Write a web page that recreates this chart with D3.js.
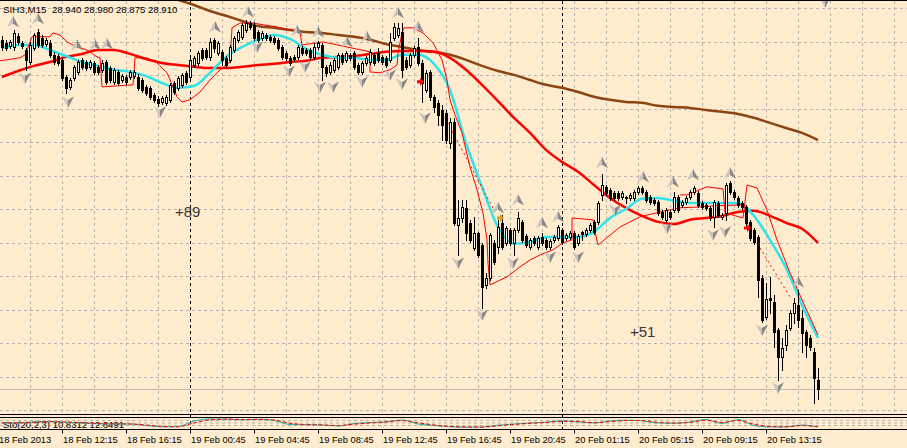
<!DOCTYPE html>
<html><head><meta charset="utf-8">
<script src="https://cdn.jsdelivr.net/npm/d3@7"></script>
<style>html,body{margin:0;padding:0;background:#FFEBCD;overflow:hidden}svg{display:block}</style>
</head><body><svg id="c" width="907" height="448"></svg>
<script>
// ---------- DATA ----------
const symbolLabel = "SIH3,M15";
const headerValues = "28.940 28.980 28.875 28.910";
const stochLabel = "Sto(20,2,3) 10.8312 12.6491";

// [open, high, low, close] per M15 bar
const candles = [
[30.074,30.087,30.040,30.050],[30.064,30.074,30.040,30.047],[30.054,30.074,30.047,30.067],[30.050,30.107,30.040,30.097],
[30.087,30.097,30.060,30.067],[30.064,30.070,30.047,30.054],[30.040,30.047,29.974,30.007],[30.000,30.067,29.994,30.057],
[30.047,30.097,30.040,30.090],[30.100,30.110,30.050,30.057],[30.080,30.090,30.050,30.057],[30.060,30.080,30.054,30.074],
[30.064,30.074,30.017,30.024],[30.024,30.034,29.994,30.000],[30.020,30.027,29.990,29.997],[30.007,30.014,29.940,29.947],
[29.950,29.957,29.897,29.914],[29.917,29.947,29.910,29.940],[29.947,29.990,29.940,29.984],[29.967,30.007,29.960,30.000],
[30.007,30.014,29.977,29.984],[30.000,30.007,29.974,29.980],[29.984,30.007,29.977,30.000],[29.997,30.004,29.960,29.967],
[29.984,29.990,29.960,29.967],[29.974,30.007,29.967,29.997],[30.000,30.007,29.927,29.934],[29.980,29.987,29.934,29.940],
[29.934,29.980,29.927,29.974],[29.967,29.974,29.924,29.930],[29.940,29.960,29.934,29.954],[29.950,29.957,29.927,29.934],
[29.950,29.974,29.944,29.967],[29.954,29.974,29.947,29.967],[29.950,29.960,29.907,29.914],[29.940,29.947,29.900,29.907],
[29.917,29.924,29.890,29.897],[29.914,29.920,29.877,29.884],[29.890,29.897,29.867,29.874],[29.877,29.887,29.854,29.864],
[29.867,29.887,29.860,29.880],[29.864,29.890,29.857,29.884],[29.874,29.930,29.867,29.924],[29.930,29.937,29.894,29.900],
[29.914,29.954,29.907,29.947],[29.924,29.964,29.917,29.957],[29.964,29.970,29.927,29.934],[29.950,30.017,29.940,30.007],
[29.990,30.020,29.984,30.014],[29.997,30.037,29.990,30.030],[30.040,30.047,30.007,30.014],[30.040,30.047,30.010,30.017],
[30.017,30.080,30.007,30.067],[30.074,30.080,30.034,30.047],[30.030,30.070,30.024,30.064],[30.034,30.040,29.990,30.007],
[30.014,30.020,29.984,29.990],[30.007,30.057,30.000,30.050],[30.040,30.087,30.034,30.080],[30.074,30.107,30.067,30.100],
[30.084,30.130,30.077,30.124],[30.107,30.140,30.100,30.130],[30.130,30.137,30.110,30.117],[30.124,30.134,30.074,30.080],
[30.100,30.107,30.067,30.074],[30.080,30.104,30.074,30.097],[30.090,30.097,30.074,30.080],[30.084,30.090,30.067,30.074],
[30.080,30.087,30.060,30.067],[30.074,30.080,30.040,30.047],[30.050,30.057,30.010,30.017],[30.030,30.037,30.007,30.014],
[30.014,30.020,29.990,29.997],[30.017,30.024,30.004,30.010],[30.017,30.057,30.010,30.050],[30.047,30.054,30.024,30.030],
[30.040,30.047,30.024,30.030],[30.040,30.047,30.010,30.017],[30.017,30.064,30.010,30.050],[30.050,30.070,30.044,30.064],
[30.057,30.064,29.940,29.984],[29.984,29.990,29.954,29.964],[29.967,30.000,29.960,29.990],[29.974,30.014,29.967,30.007],
[29.984,30.030,29.977,30.024],[30.024,30.030,29.994,30.000],[30.007,30.037,30.000,30.030],[30.024,30.030,30.007,30.014],
[30.030,30.037,29.977,29.984],[29.990,29.997,29.960,29.967],[29.967,30.004,29.960,29.997],[29.997,30.020,29.990,30.014],
[30.000,30.044,29.994,30.034],[30.024,30.030,29.990,29.997],[30.030,30.047,30.000,30.007],[30.017,30.024,29.994,30.000],
[30.014,30.020,29.984,29.990],[30.007,30.097,30.000,30.067],[30.080,30.130,30.074,30.117],[30.090,30.130,30.084,30.114],
[30.100,30.130,29.950,29.974],[30.007,30.017,29.977,29.984],[29.990,30.030,29.984,30.024],[30.024,30.054,30.017,30.047],
[30.050,30.080,29.990,29.997],[29.997,30.007,29.867,29.930],[29.907,29.974,29.900,29.964],[29.967,29.974,29.874,29.884],
[29.884,29.890,29.834,29.850],[29.864,29.874,29.790,29.824],[29.840,29.857,29.740,29.790],[29.830,29.840,29.730,29.740],
[29.730,29.814,29.714,29.800],[29.800,29.814,29.457,29.464],[29.457,29.540,29.357,29.480],[29.480,29.540,29.467,29.517],
[29.514,29.540,29.407,29.430],[29.464,29.474,29.400,29.407],[29.380,29.484,29.374,29.430],[29.430,29.434,29.350,29.357],
[29.390,29.397,29.180,29.250],[29.257,29.297,29.247,29.280],[29.280,29.430,29.274,29.424],[29.397,29.407,29.327,29.334],
[29.384,29.474,29.364,29.450],[29.464,29.490,29.377,29.384],[29.397,29.454,29.390,29.447],[29.440,29.447,29.390,29.397],
[29.397,29.447,29.357,29.440],[29.440,29.500,29.434,29.480],[29.467,29.474,29.400,29.407],[29.420,29.427,29.384,29.390],
[29.384,29.414,29.377,29.407],[29.414,29.420,29.390,29.397],[29.384,29.420,29.377,29.414],[29.417,29.430,29.390,29.397],
[29.407,29.414,29.377,29.384],[29.384,29.410,29.377,29.404],[29.407,29.424,29.400,29.417],[29.414,29.457,29.407,29.450],
[29.440,29.447,29.394,29.400],[29.414,29.430,29.407,29.424],[29.417,29.437,29.410,29.430],[29.430,29.437,29.377,29.384],
[29.397,29.427,29.390,29.420],[29.434,29.437,29.407,29.427],[29.427,29.447,29.420,29.440],[29.440,29.464,29.434,29.457],
[29.467,29.474,29.427,29.434],[29.467,29.537,29.460,29.530],[29.557,29.627,29.540,29.590],[29.584,29.590,29.557,29.564],
[29.574,29.580,29.540,29.547],[29.564,29.570,29.540,29.547],[29.564,29.570,29.540,29.547],[29.550,29.570,29.544,29.564],
[29.550,29.554,29.530,29.547],[29.547,29.564,29.540,29.557],[29.547,29.574,29.540,29.567],[29.567,29.587,29.560,29.580],
[29.580,29.587,29.560,29.567],[29.567,29.574,29.534,29.540],[29.550,29.557,29.527,29.534],[29.540,29.547,29.524,29.530],
[29.534,29.540,29.490,29.497],[29.500,29.507,29.477,29.484],[29.474,29.514,29.467,29.507],[29.500,29.507,29.477,29.484],
[29.507,29.567,29.500,29.550],[29.550,29.557,29.500,29.507],[29.524,29.540,29.517,29.534],[29.534,29.554,29.527,29.547],
[29.550,29.574,29.544,29.567],[29.567,29.587,29.560,29.580],[29.564,29.570,29.517,29.524],[29.530,29.537,29.510,29.517],
[29.524,29.530,29.507,29.514],[29.514,29.520,29.474,29.480],[29.484,29.540,29.450,29.534],[29.530,29.537,29.484,29.490],
[29.484,29.497,29.477,29.490],[29.497,29.597,29.474,29.590],[29.597,29.604,29.560,29.567],[29.567,29.574,29.544,29.550],
[29.547,29.554,29.517,29.524],[29.530,29.537,29.510,29.517],[29.517,29.524,29.457,29.464],[29.467,29.474,29.407,29.414],
[29.440,29.447,29.394,29.400],[29.417,29.424,29.217,29.274],[29.280,29.290,29.134,29.140],[29.150,29.264,29.144,29.210],
[29.214,29.284,29.164,29.207],[29.200,29.224,29.050,29.100],[29.107,29.114,28.940,29.017],[29.017,29.080,28.974,29.047],
[29.057,29.124,29.040,29.107],[29.114,29.174,29.107,29.164],[29.164,29.214,29.130,29.197],[29.190,29.240,29.117,29.140],
[29.147,29.174,29.034,29.097],[29.100,29.107,29.017,29.057],[29.080,29.090,29.040,29.050],[29.034,29.047,28.864,28.947],
[28.940,28.980,28.875,28.910]
];

// moving averages sampled every 4 bars (bar 0,4,8,...,204)
const cyanMA = [30.047,30.057,30.057,30.040,30.020,30.000,29.987,29.974,29.967,29.954,29.930,29.914,29.920,29.964,30.017,30.050,
30.074,30.090,30.077,30.044,30.024,30.014,30.014,30.007,30.007,30.024,30.024,29.994,29.907,29.730,29.584,29.450,
29.394,29.400,29.417,29.417,29.417,29.434,29.480,29.510,29.544,29.547,29.537,29.530,29.530,29.530,29.530,29.487,
29.407,29.314,29.190,29.080];
const redMA = [29.950,29.970,29.987,30.000,30.017,30.027,30.040,30.040,30.027,30.010,29.997,29.990,29.984,29.980,29.980,29.984,
29.990,29.994,30.000,30.004,30.014,30.017,30.020,30.027,30.034,30.037,30.037,30.034,30.014,29.974,29.924,29.870,
29.814,29.764,29.707,29.667,29.634,29.590,29.547,29.514,29.487,29.467,29.460,29.474,29.480,29.487,29.500,29.504,
29.487,29.464,29.444,29.397];
const brownMA = [null,null,null,null,null,null,null,null,null,30.240,30.224,30.207,30.190,30.170,30.154,30.137,
30.120,30.114,30.107,30.100,30.097,30.090,30.084,30.074,30.060,30.050,30.040,30.034,30.024,30.007,29.987,29.970,
29.957,29.940,29.924,29.914,29.900,29.884,29.874,29.867,29.864,29.854,29.850,29.847,29.840,29.834,29.827,29.814,
29.797,29.780,29.764,29.740];

// thin red channel lines: [bar position, price]
const channelA = [[-0.5,30.004],[4.5,30.014],[5.75,30.024],[7.5,30.084],[12,30.084],[12.75,30.097],[14.5,30.090],[16.25,30.067],
[18.75,30.050],[21.25,30.040],[23.75,30.017],[24.5,30.014],[24.75,29.967],[25,29.917],[32.75,29.924],[33.25,30.014],
[36.25,30.014],[38.75,29.997],[41.25,29.964],[42.75,29.917],[43.75,29.884],[45,29.867],[47,29.874],[49.5,29.900],
[52,29.940],[54.5,29.974],[57,30.000],[57.5,30.114],[59.5,30.130],[62.75,30.130],[65.25,30.124],[68.75,30.117],
[72,30.107],[74.5,30.100],[75,30.057],[80.25,30.067],[86.25,30.050],[92,30.034],[92,29.967],[94.5,29.964],
[97,29.974],[98.75,29.990],[99,30.030],[100,30.097],[100.5,30.114],[102.75,30.114],[105.25,30.097],[107.75,30.064],
[110,30.007],[111.25,29.940],[112,29.874],[113.25,29.824],[115,29.764],[117,29.650],[118.75,29.574],[120.25,29.497],
[121.25,29.407],[121.5,29.330],[122,29.257],[126.25,29.284],[129.5,29.317],[132,29.340],[134.5,29.357],[137.75,29.374],
[140.25,29.397],[142.5,29.407],[142.5,29.480],[147.75,29.474],[148.25,29.434],[149,29.390],[154.5,29.450],[159.5,29.484],
[164.5,29.500],[169.5,29.514],[174.5,29.517],[177.75,29.520],[185.25,29.524]];
const channelB = [[169.5,29.557],[171.25,29.557],[176.25,29.584],[180.25,29.577],[180.75,29.497],[185.25,29.480],[186.25,29.590],
[188.75,29.580],[191.25,29.507],[193.75,29.407],[197,29.297],[200.25,29.200],[204,29.090]];
const dashedLines = [[[110.75,29.814],[123.25,29.500]],[[189.5,29.380],[197,29.217]]];

// fractal arrows [bar position, price]
const upFractals = [[2.75,30.134],[9,30.144],[18.75,30.057],[23.25,30.057],[26.25,30.060],[53.25,30.117],[61.5,30.167],
[73.75,30.104],[79,30.100],[86.25,30.067],[91.25,30.084],[99,30.164],[104,30.117],[124,29.514],[129,29.540],[135,29.464],
[139,29.484],[150,29.664],[160.25,29.617],[167.75,29.600],[172.75,29.624],[182,29.630],[199,29.267]];
const downFractals = [[5.75,29.947],[16.5,29.867],[39.5,29.834],[63.75,30.050],[71.75,29.970],[75.75,29.984],[79.5,29.917],
[82.75,29.917],[90,29.934],[97,29.957],[100,29.927],[105.75,29.814],[114,29.330],[120,29.157],[127.75,29.330],[137,29.350],
[144,29.350],[153.25,29.507],[166.25,29.447],[177.75,29.424],[180.75,29.434],[190,29.107],[194,28.914],[205.75,30.200]];
const signalMarks = [[104.5,29.934,"#ff0000"],[186.25,29.447,"#ff0000"],[124.5,29.480,"#d4a017"]];

const profitTexts = [[43.25,29.484,"+89"],[157,29.084,"+51"]];

// stochastic sampled every 4 bars
const stochMain = [50,52,62,65,58,50,42,40,40,25,11,14,70,90,88,82,88,75,35,33,30,20,45,55,62,80,40,25,12,8,10,28,40,50,58,72,62,50,70,78,72,50,48,60,85,45,85,25,10,12,30,11];
const stochSignal = [52,51,58,63,60,53,45,41,40,30,16,12,50,82,89,84,86,80,48,34,31,24,38,50,60,74,52,30,16,10,9,22,36,47,55,67,65,53,64,75,74,57,49,56,77,55,75,38,15,11,24,13];

const timeTicks = [[-1,"18 Feb 2013"],[15,"18 Feb 12:15"],[31,"18 Feb 16:15"],[47,"19 Feb 00:45"],[63,"19 Feb 04:45"],
[79,"19 Feb 08:45"],[95,"19 Feb 12:45"],[111,"19 Feb 16:45"],[127,"19 Feb 20:45"],[143,"20 Feb 01:15"],
[159,"20 Feb 05:15"],[175,"20 Feb 09:15"],[191,"20 Feb 13:15"]];
const daySeparators = [47, 140];
const bidPrice = 28.910;

// ---------- DRAW ----------
const W = 907, H = 448;
const svg = d3.select("#c");
const x = d3.scaleLinear().domain([0, 204]).range([2, 818]);
const y = d3.scaleLinear().domain([28.91, 30.2067]).range([389, 0]);
const ys = d3.scaleLinear().domain([0, 100]).range([428, 418]);
const FONT = "'Liberation Sans', Arial, sans-serif";

svg.append("rect").attr("width", W).attr("height", H).attr("fill", "#FFEBCD");
const defs = svg.append("defs");
defs.append("clipPath").attr("id", "main").append("rect").attr("x", 0).attr("y", 1).attr("width", W).attr("height", 413);

const grid = svg.append("g").attr("stroke", "#b9b4ac").attr("stroke-width", 1).attr("stroke-dasharray", "3,3");
// vertical grid every 8 bars
d3.range(7, 230, 8).forEach(i => {
  const gx = Math.round(x(i)) + 0.5;
  grid.append("line").attr("x1", gx).attr("x2", gx).attr("y1", 1).attr("y2", 414);
});
// horizontal grid
const gridStep = 33.5 / 300;
d3.range(0, 13).forEach(k => {
  const gy = Math.round(y(30.179 - k * gridStep)) + 0.5;
  grid.append("line").attr("x1", 0).attr("x2", W).attr("y1", gy).attr("y2", gy);
});

// bid line
svg.append("line").attr("x1", 0).attr("x2", W).attr("y1", Math.round(y(bidPrice)) + 0.5).attr("y2", Math.round(y(bidPrice)) + 0.5)
  .attr("stroke", "#c0bcb6").attr("stroke-width", 1);

// day separators
daySeparators.forEach(i => {
  const sx = Math.round(x(i)) + 0.5;
  svg.append("line").attr("x1", sx).attr("x2", sx).attr("y1", 1).attr("y2", 429)
    .attr("stroke", "#000").attr("stroke-width", 1).attr("stroke-dasharray", "3,3");
});

const main = svg.append("g").attr("clip-path", "url(#main)");

// moving averages
const maLine = d3.line().defined(d => d != null).x((d, k) => x(k * 4)).y(d => y(d)).curve(d3.curveMonotoneX);
main.append("path").datum(brownMA).attr("d", maLine).attr("fill", "none").attr("stroke", "#8b4513").attr("stroke-width", 2.5);
main.append("path").datum(redMA).attr("d", maLine).attr("fill", "none").attr("stroke", "#ff0000").attr("stroke-width", 2.5);
main.append("path").datum(cyanMA).attr("d", maLine).attr("fill", "none").attr("stroke", "#2ee4ea").attr("stroke-width", 2.5);

// channel lines
const chLine = d3.line().x(d => x(d[0])).y(d => y(d[1]));
[channelA, channelB].forEach(seg => {
  main.append("path").datum(seg).attr("d", chLine).attr("fill", "none").attr("stroke", "#ff0000").attr("stroke-width", 1);
});
dashedLines.forEach(seg => {
  main.append("path").datum(seg).attr("d", chLine).attr("fill", "none").attr("stroke", "#ff0000")
    .attr("stroke-width", 1).attr("stroke-dasharray", "2,3");
});

// candles
const cg = main.append("g");
candles.forEach((d, i) => {
  const [o, h, l, c] = d;
  const cx = Math.round(x(i));
  cg.append("line").attr("x1", cx + 0.5).attr("x2", cx + 0.5)
    .attr("y1", Math.round(y(h))).attr("y2", Math.round(y(l)) + 1).attr("stroke", "#000").attr("stroke-width", 1);
  const top = Math.round(y(Math.max(o, c))), bot = Math.round(y(Math.min(o, c)));
  if (c >= o) {
    cg.append("rect").attr("x", cx - 0.5).attr("y", top + 0.5).attr("width", 2).attr("height", Math.max(0, bot - top))
      .attr("fill", "#fff").attr("stroke", "#000").attr("stroke-width", 1);
  } else {
    cg.append("rect").attr("x", cx - 1).attr("y", top).attr("width", 3).attr("height", Math.max(1, bot - top + 1))
      .attr("fill", "#000");
  }
});

// signal marks
signalMarks.forEach(([i, p, col]) => {
  main.append("path").attr("transform", `translate(${x(i)},${y(p)})`)
    .attr("d", "M-3,-1.5 L0,-1.5 L0,-4 L4,0 L0,4 L0,1.5 L-3,1.5 Z").attr("fill", col);
});

// fractal arrows
function arrow(i, p, up) {
  const g = main.append("g").attr("transform", `translate(${x(i)},${y(p)}) scale(1,${up ? 1 : -1})`);
  g.append("path").attr("d", "M0,-6 L0,2 L-6,5.5 Z").attr("fill", "#c9c6c2");
  g.append("path").attr("d", "M0,-6 L6,5.5 L0,2 Z").attr("fill", "#8a8784");
}
upFractals.forEach(d => arrow(d[0], d[1], true));
downFractals.forEach(d => arrow(d[0], d[1], false));

// profit texts
profitTexts.forEach(([i, p, t]) => {
  svg.append("text").attr("x", x(i)).attr("y", y(p)).text(t)
    .attr("font-family", FONT).attr("font-size", 15).attr("fill", "#3a3a3a");
});

// header
svg.append("line").attr("x1", 0).attr("x2", W).attr("y1", 0.5).attr("y2", 0.5).attr("stroke", "#000");
svg.append("text").attr("x", 3).attr("y", 13).text(symbolLabel).attr("font-family", FONT).attr("font-size", 9.8).attr("fill", "#000");
svg.append("text").attr("x", 52).attr("y", 13).text(headerValues).attr("font-family", FONT).attr("font-size", 9.6).attr("fill", "#000");

// indicator sub-window
svg.append("line").attr("x1", 0).attr("x2", W).attr("y1", 414.5).attr("y2", 414.5).attr("stroke", "#000");
svg.append("line").attr("x1", 0).attr("x2", W).attr("y1", 417.5).attr("y2", 417.5).attr("stroke", "#000");
[420.5, 423, 425.5].forEach(gy => {
  svg.append("line").attr("x1", 0).attr("x2", W).attr("y1", gy).attr("y2", gy)
    .attr("stroke", "#b9b4ac").attr("stroke-dasharray", "3,3");
});
svg.append("text").attr("x", 3).attr("y", 427.5).text(stochLabel).attr("font-family", FONT).attr("font-size", 9.5).attr("fill", "#000");
const stLine = d3.line().x((d, k) => x(k * 4)).y(d => ys(d)).curve(d3.curveMonotoneX);
svg.append("path").datum(stochMain).attr("d", stLine).attr("fill", "none").attr("stroke", "#20b2aa").attr("stroke-width", 1);
svg.append("path").datum(stochSignal).attr("d", stLine).attr("fill", "none").attr("stroke", "#ff0000").attr("stroke-width", 1).attr("stroke-dasharray", "4,2");
svg.append("line").attr("x1", 0).attr("x2", W).attr("y1", 429.5).attr("y2", 429.5).attr("stroke", "#000");

// time axis
timeTicks.forEach(([i, t]) => {
  const tx = Math.round(x(i)) + 0.5;
  svg.append("line").attr("x1", tx).attr("x2", tx).attr("y1", 430).attr("y2", 433.5).attr("stroke", "#000");
  svg.append("text").attr("x", tx + 0.5).attr("y", 443).text(t).attr("font-family", FONT).attr("font-size", 9.3).attr("fill", "#000");
});
</script></body></html>
